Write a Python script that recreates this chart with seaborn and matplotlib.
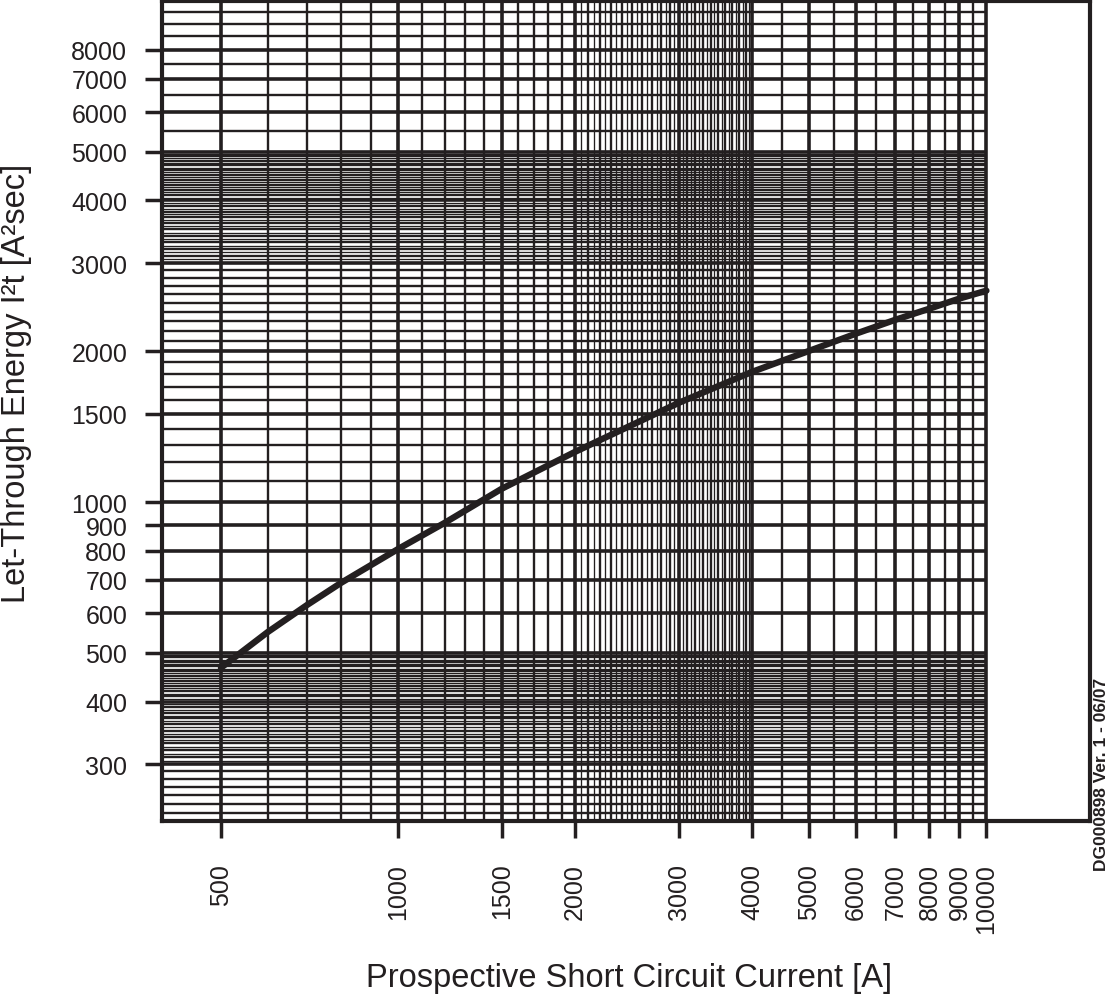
import numpy as np
import seaborn as sns
import matplotlib.pyplot as plt

# values
current = [500, 600, 700, 800, 900, 1000, 1200, 1500, 2000, 2500, 3000,
           4000, 5000, 6000, 7000, 8000, 9000, 10000]
energy = [467, 550, 623, 690, 749, 806, 909, 1063, 1260, 1426, 1578,
          1820, 2004, 2168, 2311, 2432, 2548, 2642]

x_ticks = [500, 1000, 1500, 2000, 3000, 4000, 5000, 6000, 7000, 8000, 9000, 10000]
y_ticks = [300, 400, 500, 600, 700, 800, 900, 1000, 1500, 2000, 3000,
           4000, 5000, 6000, 7000, 8000]

ink = '#231f20'

sns.set_style('white')
plt.rcParams['font.family'] = ['Liberation Sans', 'DejaVu Sans']

fig = plt.figure(figsize=(11.09, 9.95), dpi=100)
ax = fig.add_axes([162 / 1109, 1 - 822 / 995, (1090 - 162) / 1109, (822 - 2) / 995])
ax.set_xscale('log')
ax.set_yscale('log')
ax.set_xlim(397, 15000)
ax.set_ylim(231, 10000)


def steps(start, stop, step, skip=()):
    vals = np.arange(start, stop + step / 2, step)
    return [v for v in vals if v not in skip]


# log paper grid: horizontal lines stop at 10000 A
h_thin = steps(305, 495, 10) + steps(3050, 4950, 100)
h_mid = (steps(240, 290, 10) + steps(310, 490, 10, skip=(400,))
         + steps(1100, 2900, 100, skip=(1500, 2000)) + steps(3100, 4900, 100, skip=(4000,))
         + steps(5500, 9500, 500, skip=(6000, 7000, 8000)))
v_thin = steps(2050, 3950, 100)
v_mid = (steps(600, 900, 100) + steps(1100, 1900, 100, skip=(1500,))
         + steps(2100, 3900, 100, skip=(3000,)) + steps(4500, 9500, 1000))

ax.hlines(h_thin, 397, 10000, color=ink, lw=0.95, zorder=1)
ax.hlines(h_mid, 397, 10000, color=ink, lw=1.7, zorder=1)
ax.hlines(y_ticks, 397, 10000, color=ink, lw=2.6, zorder=2)
for xv in v_thin:
    ax.axvline(xv, color=ink, lw=0.95, zorder=1)
for xv in v_mid:
    ax.axvline(xv, color=ink, lw=1.7, zorder=1)
for xv in x_ticks:
    ax.axvline(xv, color=ink, lw=2.6, zorder=2)

sns.lineplot(x=current, y=energy, ax=ax, color=ink, lw=4.6, zorder=6)

ax.xaxis.set_minor_locator(plt.NullLocator())
ax.yaxis.set_minor_locator(plt.NullLocator())
ax.set_xticks(x_ticks)
ax.set_xticklabels([str(v) for v in x_ticks], rotation=90, va='top', ha='center')
ax.set_yticks(y_ticks)
ax.set_yticklabels([str(v) for v in y_ticks])
ax.tick_params(axis='x', length=12, width=2.5, color=ink, pad=18,
               labelsize=18, labelcolor=ink, bottom=True)
ax.tick_params(axis='y', length=12, width=2.5, color=ink, pad=13,
               labelsize=18, labelcolor=ink, left=True)

for side in ax.spines.values():
    side.set_color(ink)
    side.set_linewidth(3)
    side.set_zorder(7)

ax.set_xlabel('Prospective Short Circuit Current [A]', fontsize=23.5, color=ink)
ax.set_ylabel('Let-Through Energy I²t [A²sec]', fontsize=23.5, color=ink)
ax.xaxis.set_label_coords(0.503, -0.172)
ax.yaxis.set_label_coords(-0.14, 0.535)

fig.text(1101 / 1109, 1 - 774 / 995, 'DG000898 Ver. 1 - 06/07', rotation=90,
         ha='center', va='center', fontsize=12.5, fontweight='bold', color=ink,
         family=['Liberation Sans Narrow', 'Liberation Sans', 'DejaVu Sans'])

fig.savefig('out.png', dpi=100)
